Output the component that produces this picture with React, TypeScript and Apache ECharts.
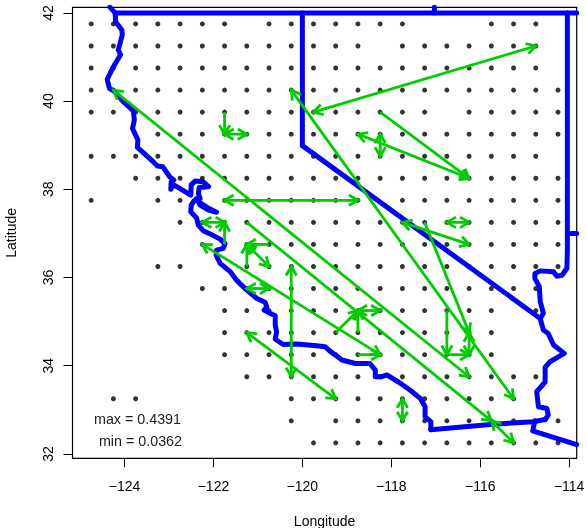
import React, { useEffect, useRef } from "react";
import * as echarts from "echarts";

const xTicks = [-124, -122, -120, -118, -116, -114];
const yTicks = [32, 34, 36, 38, 40, 42];
const lonMin = -125.17, lonMax = -113.83, latMin = 31.9, latMax = 42.127;
const notes = ["max = 0.4391", "min = 0.0362"];

// station grid: column longitudes and, per latitude, the columns with a station
const gridLons = [-124.75, -124.25, -123.75, -123.25, -122.75, -122.25, -121.75, -121.25, -120.75, -120.25, -119.75,
  -119.25, -118.75, -118.25, -117.75, -117.25, -116.75, -116.25, -115.75, -115.25, -114.75, -114.25];
const stationRows: [number, number[]][] = [
  [41.75, [0, 1, 2, 3, 4, 5, 6, 8, 9, 10, 11, 12, 13, 14, 18, 19, 20]],
  [41.25, [0, 1, 2, 3, 4, 5, 6, 7, 8, 9, 10, 11, 12, 14, 15, 16, 17, 18, 19, 20]],
  [40.75, [0, 1, 2, 3, 4, 5, 6, 7, 8, 9, 10, 11, 12, 13, 14, 15, 16, 17, 18, 19, 20]],
  [40.25, [0, 1, 2, 3, 4, 5, 6, 7, 8, 9, 10, 11, 12, 13, 14, 15, 16, 17, 18, 19, 20, 21]],
  [39.75, [0, 1, 2, 3, 4, 5, 6, 7, 8, 9, 10, 11, 12, 13, 14, 15, 17, 18, 19, 20, 21]],
  [39.25, [3, 4, 5, 6, 7, 8, 9, 10, 11, 12, 13, 14, 15, 16, 17, 18, 19, 20, 21]],
  [38.75, [0, 1, 2, 3, 4, 5, 6, 7, 8, 9, 10, 11, 12, 13, 14, 15, 16, 17, 18, 19, 20]],
  [38.25, [2, 3, 4, 5, 6, 7, 8, 9, 10, 11, 12, 13, 14, 15, 16, 17, 18, 19, 20, 21]],
  [37.75, [0, 3, 4, 6, 7, 8, 9, 10, 11, 12, 14, 15, 16, 17, 18, 19, 20, 21]],
  [37.25, [4, 5, 6, 7, 8, 9, 10, 11, 12, 13, 14, 15, 16, 17, 18, 19, 20, 21]],
  [36.75, [5, 7, 8, 9, 10, 11, 12, 13, 14, 15, 16, 17, 18, 19, 20, 21]],
  [36.25, [3, 4, 7, 8, 9, 10, 11, 12, 13, 14, 15, 16, 17, 18, 19, 20, 21]],
  [35.75, [5, 6, 7, 8, 9, 10, 11, 12, 13, 14, 15, 16, 17, 18, 19, 20]],
  [35.25, [6, 7, 8, 9, 10, 11, 12, 13, 14, 15, 16, 17, 18, 20]],
  [34.75, [6, 7, 8, 9, 10, 11, 12, 13, 14, 15, 16, 17, 18]],
  [34.25, [6, 7, 8, 9, 10, 11, 12, 13, 14, 15, 16, 17, 18]],
  [33.75, [7, 8, 9, 10, 11, 12, 13, 14, 15, 16, 17, 18, 19, 20]],
  [33.25, [1, 2, 9, 10, 11, 12, 13, 14, 15, 16, 17, 18, 19]],
  [32.75, [9, 11, 12, 13, 14, 15, 16, 17, 18, 19, 21]],
  [32.25, [10, 11, 12, 13, 14, 15, 16, 17, 18, 19, 20, 21]],
];

// [lon, lat, lon, lat, 1 = head at both ends]
const arrows = [
  [-119.75, 39.75, -114.75, 41.25, 1],
  [-124.25, 40.25, -116.25, 33.75, 1],
  [-120.25, 40.25, -115.25, 33.25, 1],
  [-121.75, 39.75, -121.75, 39.25, 0],
  [-121.75, 39.25, -121.25, 39.25, 1],
  [-118.25, 39.75, -116.25, 38.25, 0],
  [-118.75, 39.25, -116.25, 38.25, 1],
  [-118.25, 39.25, -118.25, 38.75, 1],
  [-121.75, 37.75, -118.75, 37.75, 1],
  [-122.25, 37.25, -121.75, 37.25, 1],
  [-121.75, 36.75, -121.75, 37.25, 0],
  [-121.25, 36.25, -121.25, 36.75, 0],
  [-120.75, 36.75, -121.25, 36.75, 0],
  [-121.25, 36.75, -120.75, 36.25, 1],
  [-121.25, 35.75, -120.75, 35.75, 1],
  [-120.25, 36.25, -120.25, 33.75, 1],
  [-122.25, 36.75, -118.25, 34.25, 1],
  [-121.25, 34.75, -119.25, 33.25, 1],
  [-121.25, 37.25, -115.75, 32.75, 0],
  [-115.75, 32.75, -115.25, 32.25, 1],
  [-119.25, 34.75, -118.75, 35.25, 0],
  [-118.75, 34.75, -118.75, 35.25, 0],
  [-118.75, 35.25, -118.25, 35.25, 1],
  [-118.75, 34.25, -118.25, 34.25, 0],
  [-116.75, 35.25, -116.75, 34.25, 0],
  [-116.75, 34.25, -116.25, 34.25, 0],
  [-116.25, 34.75, -116.25, 34.25, 1],
  [-117.25, 37.25, -116.25, 34.75, 0],
  [-117.75, 37.25, -116.25, 36.75, 1],
  [-116.75, 37.25, -116.25, 37.25, 1],
  [-117.75, 33.25, -117.75, 32.75, 1],
];

// state outlines, [lon, lat]
const coast = [
  [-124.33, 42.13], [-124.21, 42.0], [-124.2, 41.8], [-124.06, 41.61], [-124.05, 41.5], [-124.1, 41.31], [-124.14, 41.16],
  [-124.09, 41.05], [-124.25, 40.78], [-124.39, 40.49], [-124.34, 40.29], [-124.21, 40.21], [-124.03, 39.99], [-123.8, 39.78],
  [-123.78, 39.57], [-123.82, 39.38], [-123.7, 39.12], [-123.71, 38.95], [-123.35, 38.62], [-123.26, 38.53], [-123.14, 38.51],
  [-122.98, 38.28], [-122.89, 38.21], [-122.95, 38.17], [-122.96, 38.0], [-122.89, 38.1], [-122.51, 37.87],
  [-122.5, 38.1], [-122.41, 38.19], [-122.23, 38.17], [-122.11, 38.06], [-122.32, 38.04], [-122.34, 37.91], [-122.3, 37.79],
  [-122.34, 37.72], [-122.11, 37.57], [-121.93, 37.48], [-122.11, 37.53], [-122.3, 37.64], [-122.38, 37.79],
  [-122.45, 37.72], [-122.5, 37.64], [-122.51, 37.49], [-122.38, 37.35], [-122.34, 37.19], [-122.23, 37.06], [-122.0, 36.95],
  [-121.85, 36.87], [-121.74, 36.77], [-121.78, 36.66], [-121.93, 36.62], [-121.94, 36.51], [-121.85, 36.32], [-121.63, 36.14],
  [-121.48, 35.94], [-121.29, 35.75], [-121.03, 35.53], [-120.84, 35.44], [-120.8, 35.33], [-120.86, 35.26], [-120.73, 35.19],
  [-120.61, 35.13], [-120.61, 34.92], [-120.58, 34.77], [-120.61, 34.6], [-120.43, 34.48], [-120.13, 34.49], [-119.68, 34.45],
  [-119.49, 34.43], [-119.38, 34.33], [-119.23, 34.22], [-119.11, 34.13], [-118.81, 34.05], [-118.48, 34.05], [-118.36, 33.9],
  [-118.36, 33.75], [-118.21, 33.75], [-118.1, 33.79], [-117.84, 33.63], [-117.58, 33.45], [-117.35, 33.26], [-117.24, 33.07],
  [-117.24, 32.84], [-117.11, 32.73], [-117.11, 32.55],
];
const mexicoBorder = [[-117.11, 32.55], [-115.71, 32.67], [-114.81, 32.73], [-114.54, 32.78]];
const colorado = [
  [-114.54, 32.78], [-114.47, 32.88], [-114.5, 33.03], [-114.69, 33.07], [-114.73, 33.41], [-114.54, 33.63], [-114.54, 33.96],
  [-114.43, 34.09], [-114.11, 34.28], [-114.35, 34.47], [-114.47, 34.73], [-114.58, 34.81], [-114.65, 35.07], [-114.58, 35.19],
  [-114.65, 35.45], [-114.67, 35.79], [-114.77, 35.98], [-114.77, 36.09], [-114.65, 36.15], [-114.35, 36.13], [-114.28, 36.03],
  [-114.16, 36.05], [-114.05, 36.21], [-114.04, 36.62], [-114.04, 42.0],
];
const arizonaSouth = [[-114.77, 32.75], [-114.82, 32.52], [-113.83, 32.21]];
const topBorder = [[-124.21, 42.0], [-113.83, 42.0]];
const topStub = [[-117.03, 42.0], [-117.03, 42.13]];
const nevadaWest = [[-120.0, 42.0], [-120.0, 38.99], [-114.65, 35.07]];
const utahStub = [[-114.04, 37.0], [-113.83, 37.0]];
const outlines = [coast, mexicoBorder, colorado, arizonaSouth, topBorder, topStub, nevadaWest, utahStub];

const FONT = "Liberation Sans";
const GREEN = "#00CD00";
const fmt = (v: number) => String(v).replace("-", "\u2212");

const headPoints = (tip: number[], tail: number[]) => {
  const a = Math.atan2(tail[1] - tip[1], tail[0] - tip[0]);
  const len = 10.5, spread = Math.PI / 6;
  return [
    [tip[0] + len * Math.cos(a + spread), tip[1] + len * Math.sin(a + spread)],
    tip,
    [tip[0] + len * Math.cos(a - spread), tip[1] + len * Math.sin(a - spread)],
  ];
};

export default function App() {
  const ref = useRef<HTMLDivElement>(null);
  useEffect(() => {
    document.body.style.margin = "0";
    const chart = echarts.init(ref.current!, null, { renderer: "svg" });
    const axisCommon = {
      type: "value",
      nameLocation: "middle",
      nameTextStyle: { fontFamily: FONT, fontSize: 14, color: "#000" },
      axisLine: { show: false },
      splitLine: { show: false },
    };
    chart.setOption({
      animation: false,
      grid: { show: true, outerBoundsMode: "none", containLabel: false, left: 72.5, top: 7.3, right: 10.3, bottom: 69.7, borderColor: "#000", borderWidth: 1.2, backgroundColor: "#fff" },
      xAxis: {
        ...axisCommon,
        name: "Longitude",
        nameGap: 56,
        min: lonMin,
        max: lonMax,
        axisTick: { customValues: xTicks, length: 9, lineStyle: { color: "#000", width: 1 } },
        axisLabel: { customValues: xTicks, formatter: fmt, fontFamily: FONT, fontSize: 14, color: "#000", margin: 21, hideOverlap: false },
      },
      yAxis: {
        ...axisCommon,
        name: "Latitude",
        nameGap: 55,
        nameTextStyle: { fontFamily: FONT, fontSize: 14, color: "#000" },
        min: latMin,
        max: latMax,
        axisTick: { customValues: yTicks, length: 9, lineStyle: { color: "#000", width: 1 } },
        axisLabel: { customValues: yTicks, formatter: fmt, rotate: 90, fontFamily: FONT, fontSize: 14, color: "#000", margin: 18, hideOverlap: false },
      },
      graphic: [
        { type: "text", x: 181, y: 419, style: { text: notes[0], font: `14.3px "${FONT}"`, fill: "#222", textAlign: "right", textVerticalAlign: "middle" } },
        { type: "text", x: 182, y: 441, style: { text: notes[1], font: `14.3px "${FONT}"`, fill: "#222", textAlign: "right", textVerticalAlign: "middle" } },
      ],
      series: [
        {
          type: "scatter",
          silent: true,
          symbolSize: 5,
          itemStyle: { color: "#000" },
          z: 2,
          data: stationRows.flatMap(([lat, cols]) => cols.map((c) => [gridLons[c], lat])),
        },
        ...outlines.map((pts) => ({
          type: "line",
          silent: true,
          showSymbol: false,
          symbol: "none",
          z: 3,
          lineStyle: { color: "#0000FF", width: 5, join: "round", cap: "round" },
          data: pts,
        })),
        {
          type: "custom",
          silent: true,
          z: 4,
          clip: false,
          encode: { x: [0, 2], y: [1, 3] },
          data: arrows,
          renderItem: (_p: any, api: any) => {
            const a = api.coord([api.value(0), api.value(1)]);
            const b = api.coord([api.value(2), api.value(3)]);
            const style = { stroke: GREEN, lineWidth: 2.8, fill: null };
            const children: any[] = [
              { type: "line", shape: { x1: a[0], y1: a[1], x2: b[0], y2: b[1] }, style },
              { type: "polyline", shape: { points: headPoints(b, a) }, style },
            ];
            if (api.value(4)) children.push({ type: "polyline", shape: { points: headPoints(a, b) }, style });
            return { type: "group", children };
          },
        },
      ],
    });
    return () => chart.dispose();
  }, []);
  return <div ref={ref} style={{ position: "fixed", left: 0, top: 0, width: 587, height: 528 }} />;
}
